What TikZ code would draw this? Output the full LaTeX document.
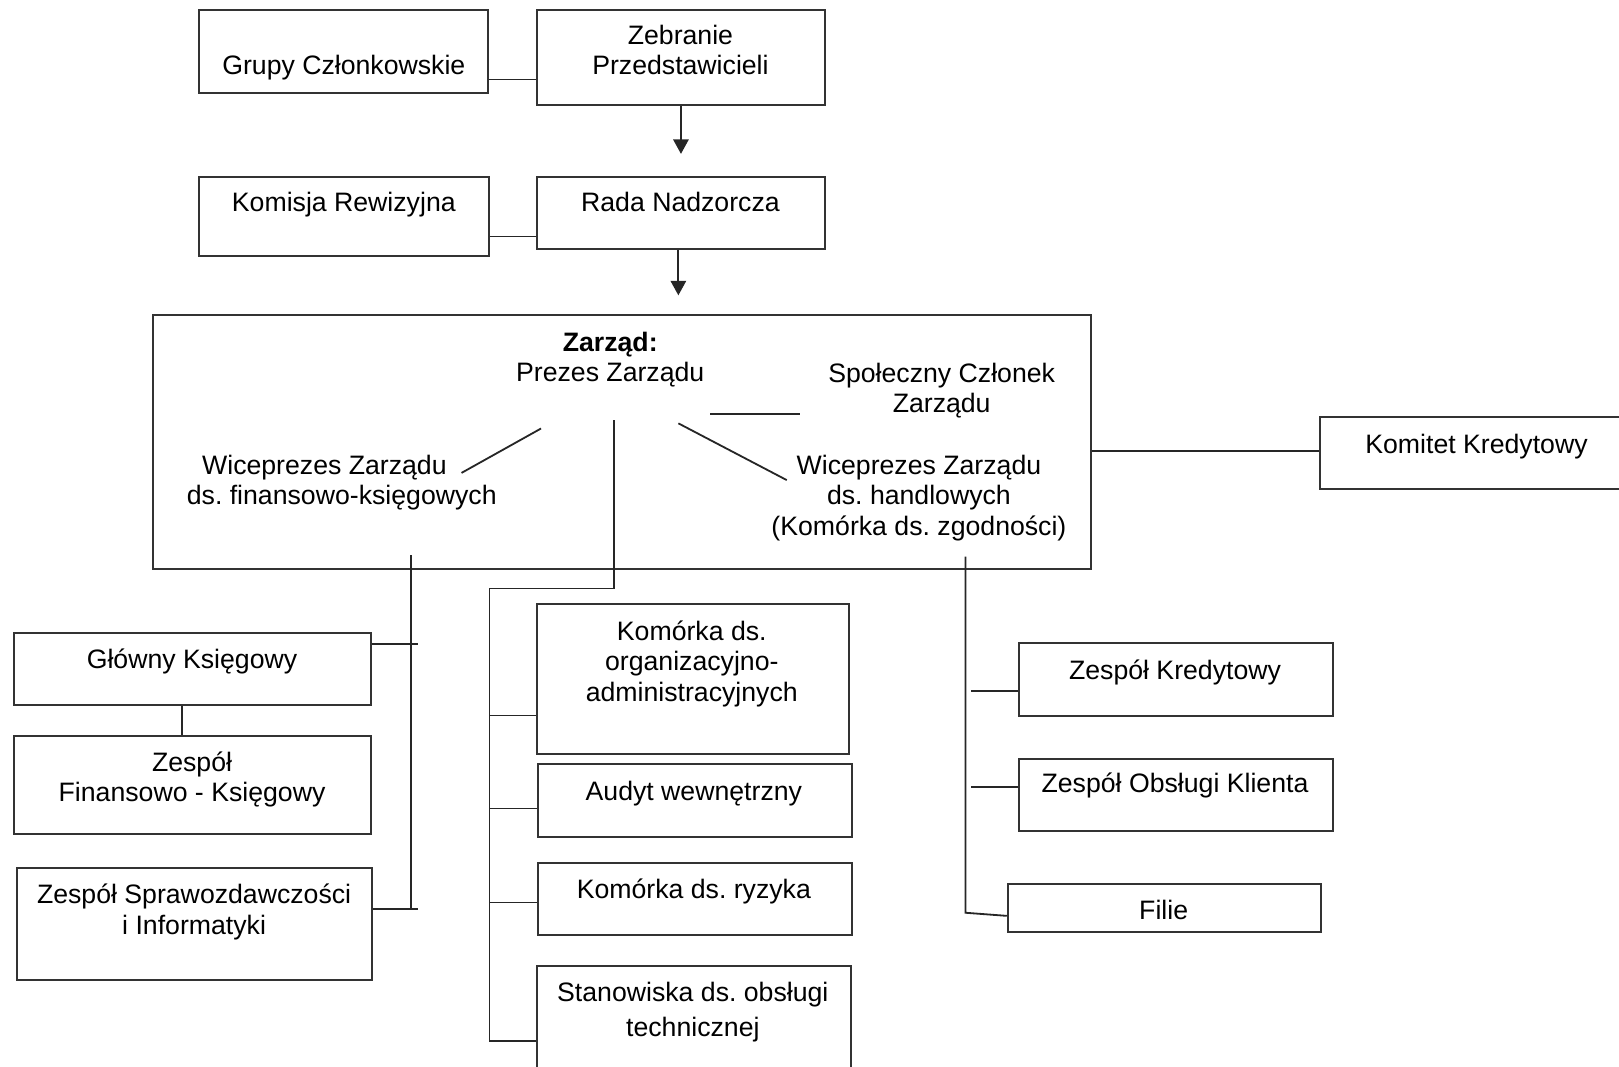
\documentclass[tikz,border=0pt]{standalone}
\usepackage{fontspec}
\setmainfont{Liberation Sans}
\usetikzlibrary{arrows.meta,fit}

\tikzset{
	box/.style={draw=black!80, line width=1.1pt, inner sep=0pt},
	txt/.style={align=center, anchor=base, inner sep=0pt, font=\fontsize{14.7pt}{16.8pt}\selectfont\frenchspacing},
	link/.style={draw=black!85, line width=1pt},
	arr/.style={link, -{Triangle[length=8pt,width=8.5pt]}},
}

\begin{document}
\begin{tikzpicture}[x=0.02cm, y=-0.02cm]
	\useasboundingbox (0,0) rectangle (1568,1033);
	\clip (0,0) rectangle (1568,1033);
	% upper levels
	\node[box, fit={(193,10) (473,90)}] (grupy) {};
	\node[box, fit={(520,10) (799,102)}] (zebranie) {};
	\node[box, fit={(193,171) (474,248)}] (komisja) {};
	\node[box, fit={(520,171) (799,241)}] (rada) {};
	\node[box, fit={(148,305) (1057,551)}] (zarzad) {};
	\node[box, fit={(1278,404) (1600,474)}] (komitet) {};
	\node[txt] (grupy-t) at (333,72.6) {Grupy Członkowskie};
	\node[txt] (zebranie-t) at (659,72.5) {Zebranie\\Przedstawicieli};
	\node[txt] (komisja-t) at (333,205) {Komisja Rewizyjna};
	\node[txt] (rada-t) at (659,205) {Rada Nadzorcza};
	\node[txt] (komitet-t) at (1430,439) {Komitet Kredytowy};
	% inside the board
	\node[txt] (prezes-t) at (591,369.6) {\textbf{Zarząd:}\\Prezes Zarządu};
	\node[txt] (spol-t) at (912,399.6) {Społeczny Członek\\Zarządu};
	\node[txt] (wfin-t) at (331,488.6) {Wiceprezes Zarządu\hspace*{1.3em}\\ds. finansowo-księgowych};
	\node[txt] (whan-t) at (890,518.2) {Wiceprezes Zarządu\\ds. handlowych\\(Komórka ds. zgodności)};
	% left column
	\node[box, fit={(14,613) (359,683)}] (glowny) {};
	\node[box, fit={(14,713) (359,808)}] (zfk) {};
	\node[box, fit={(16,841) (360,949)}] (spraw) {};
	\node[txt] (glowny-t) at (186,647) {Główny Księgowy};
	\node[txt] (zfk-t) at (186,776.6) {Zespół\\Finansowo - Księgowy};
	\node[txt] (spraw-t) at (188,904.6) {Zespół Sprawozdawczości\\i Informatyki};
	% middle column
	\node[box, fit={(520,585) (822,730)}] (komorg) {};
	\node[box, fit={(521,740) (825,811)}] (audyt) {};
	\node[box, fit={(521,836) (825,906)}] (ryzyka) {};
	\node[box, fit={(520,936) (824,1060)}] (stan) {};
	\node[txt] (komorg-t) at (670,679.2) {Komórka ds.\\organizacyjno-\\administracyjnych};
	\node[txt] (audyt-t) at (672,775) {Audyt wewnętrzny};
	\node[txt] (ryzyka-t) at (672,870) {Komórka ds. ryzyka};
	\node[txt] (stan-t) at (671,1003.5) {Stanowiska ds. obsługi\\[2.2pt]technicznej};
	% right column
	\node[box, fit={(987,623) (1291,693)}] (zk) {};
	\node[box, fit={(987,735) (1291,805)}] (zo) {};
	\node[box, fit={(976,856) (1279,903)}] (filie) {};
	\node[txt] (zk-t) at (1138,658) {Zespół Kredytowy};
	\node[txt] (zo-t) at (1138,768) {Zespół Obsługi Klienta};
	\node[txt] (filie-t) at (1127,891) {Filie};

	\coordinate (prez-s) at (595,407);
	\coordinate (mid-top) at (474,570);
	\coordinate (mid-bot) at (474,1008);
	\coordinate (pl) at (524,415);
	\coordinate (vl) at (447,458);
	\coordinate (pr) at (657,410);
	\coordinate (vr) at (762,465);
	\coordinate (ps) at (688,401);
	\coordinate (sp) at (775,401);
	\coordinate (vf-s) at (398,538);
	\coordinate (vf-e) at (398,880);
	\coordinate (vh-s) at (935,539);
	\coordinate (vh-e) at (935,884);

	\draw[link] (grupy.east |- 0,77) -- (zebranie.west |- 0,77);
	\draw[link] (komisja.east |- 0,229) -- (rada.west |- 0,229);
	\draw[arr, shorten >=0.42cm] (zebranie) -- (rada);
	\draw[arr, shorten >=0.36cm] (rada.south -| 657,0) -- (zarzad.north -| 657,0);
	\draw[link] (zarzad.east |- 0,437) -- (komitet.west |- 0,437);

	\draw[link] (ps) -- (sp);
	\draw[link] (pl) -- (vl);
	\draw[link] (pr) -- (vr);

	\draw[link] (vf-s) -- (vf-e);
	\draw[link] (glowny.east |- 0,624) -- ++(45,0);
	\draw[link] (spraw.east |- vf-e) -- ++(44,0);
	\draw[link] (glowny.south -| 176,0) -- (zfk.north -| 176,0);

	\draw[link] (prez-s) |- (mid-top) -- (mid-bot);
	\draw[link] (mid-top |- 0,693) -- (komorg.west |- 0,693);
	\draw[link] (mid-top |- 0,783) -- (audyt.west |- 0,783);
	\draw[link] (mid-top |- 0,874) -- (ryzyka.west |- 0,874);
	\draw[link] (mid-bot) -- (stan.west |- mid-bot);

	\draw[link] (vh-s) -- (vh-e) -- (filie.west |- 0,887);
	\draw[link] (zk.west |- 0,669) -- ++(-46,0);
	\draw[link] (zo.west |- 0,762) -- ++(-46,0);
\end{tikzpicture}
\end{document}
